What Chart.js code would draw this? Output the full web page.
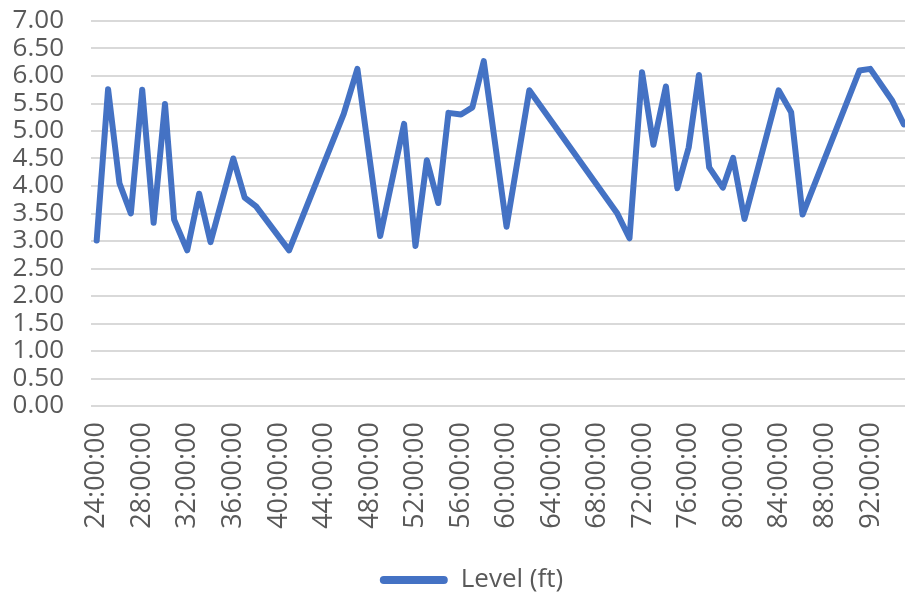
<!DOCTYPE html>
<html>
<head>
<meta charset="utf-8">
<title>Level (ft)</title>
<script src="https://cdn.jsdelivr.net/npm/chart.js@4/dist/chart.umd.min.js"></script>
<style>
  html, body { margin: 0; padding: 0; background: #ffffff; }
  #wrap { width: 905px; height: 597px; position: relative; }
</style>
</head>
<body>
<div id="wrap"><canvas id="levelChart" width="905" height="597"></canvas></div>
<script>
// Elapsed time of each reading, in hours
const readingHours = [
  24.0, 25.0, 26.0, 27.0, 28.0, 29.0, 30.0, 30.8, 31.95, 33.0,
  34.0, 36.0, 37.0, 38.0, 40.9, 45.7, 46.9, 48.9, 51.0, 52.0,
  53.0, 54.0, 54.9, 56.0, 57.0, 58.0, 60.0, 62.0, 69.7, 70.8,
  71.9, 72.9, 74.0, 75.0, 76.0, 76.9, 77.8, 79.0, 79.9, 80.9,
  83.9, 85.0, 86.0, 91.0, 91.95, 93.85, 94.9
];

// Water level at each reading, in feet
const levelFt = [
  3.01, 5.76, 4.05, 3.50, 5.75, 3.33, 5.49, 3.39, 2.83, 3.86,
  2.98, 4.50, 3.79, 3.63, 2.83, 5.31, 6.13, 3.09, 5.13, 2.91,
  4.47, 3.69, 5.33, 5.30, 5.43, 6.27, 3.26, 5.74, 3.51, 3.05,
  6.07, 4.75, 5.81, 3.96, 4.70, 6.02, 4.34, 3.97, 4.51, 3.40,
  5.74, 5.34, 3.48, 6.10, 6.13, 5.56, 5.12
];

// Hour marks shown under the time axis
const tickHours = [24, 28, 32, 36, 40, 44, 48, 52, 56, 60, 64, 68, 72, 76, 80, 84, 88, 92];

const seriesName = 'Level (ft)';
const lineBlue = '#4472C4';
const textGrey = '#595959';
const gridGrey = '#d9d9d9';
const fontFamily = '"Open Sans", "Liberation Sans", sans-serif';

const points = readingHours.map((h, i) => ({ x: h, y: levelFt[i] }));

// Nudges the centred legend a little right of the canvas middle and down
const legendShift = {
  id: 'legendShift',
  afterLayout(chart) {
    const lg = chart.legend;
    if (!lg) return;
    lg.left += 26;
    lg.top += 6;
    lg.bottom += 6;
  }
};

new Chart(document.getElementById('levelChart'), {
  type: 'line',
  data: {
    datasets: [{
      label: seriesName,
      data: points,
      borderColor: lineBlue,
      backgroundColor: lineBlue,
      borderWidth: 6,
      borderJoinStyle: 'round',
      borderCapStyle: 'round',
      pointRadius: 0,
      pointHoverRadius: 0,
      tension: 0,
      fill: false
    }]
  },
  plugins: [legendShift],
  options: {
    responsive: false,
    animation: false,
    events: [],
    layout: { autoPadding: false, padding: { left: 12, right: 0, top: 21, bottom: 0 } },
    scales: {
      x: {
        type: 'linear',
        min: 23.5,
        max: 95,
        afterBuildTicks: (scale) => {
          scale.ticks = tickHours.map(v => ({ value: v }));
        },
        // fixed band for the upright time labels; no side overhang
        afterFit: (scale) => {
          scale.height = 155;
          scale.paddingLeft = 0;
          scale.paddingRight = 0;
        },
        grid: { display: false, drawTicks: false },
        border: { display: false },
        ticks: {
          autoSkip: false,
          minRotation: 90,
          maxRotation: 90,
          padding: 16,
          color: textGrey,
          font: { family: fontFamily, size: 27 },
          callback: (v) => String(v).padStart(2, '0') + ':00:00'
        }
      },
      y: {
        min: 0,
        max: 7,
        afterFit: (scale) => {
          scale.width = 79;
          scale.paddingTop = 0;
          scale.paddingBottom = 0;
        },
        grid: { color: gridGrey, lineWidth: 2, drawTicks: false },
        border: { display: false },
        ticks: {
          autoSkip: false,
          stepSize: 0.5,
          padding: 27,
          color: textGrey,
          font: { family: fontFamily, size: 26, lineHeight: 1 },
          callback: (v) => Number(v).toFixed(2)
        }
      }
    },
    plugins: {
      tooltip: { enabled: false },
      legend: {
        position: 'bottom',
        labels: {
          color: textGrey,
          font: { family: fontFamily, size: 26 },
          boxWidth: 68,
          boxHeight: 8,
          useBorderRadius: true,
          borderRadius: 4,
          padding: 0,
          generateLabels: (chart) =>
            Chart.defaults.plugins.legend.labels.generateLabels(chart)
              .map(item => Object.assign(item, { lineWidth: 0 }))
        }
      }
    }
  }
});
</script>
</body>
</html>
